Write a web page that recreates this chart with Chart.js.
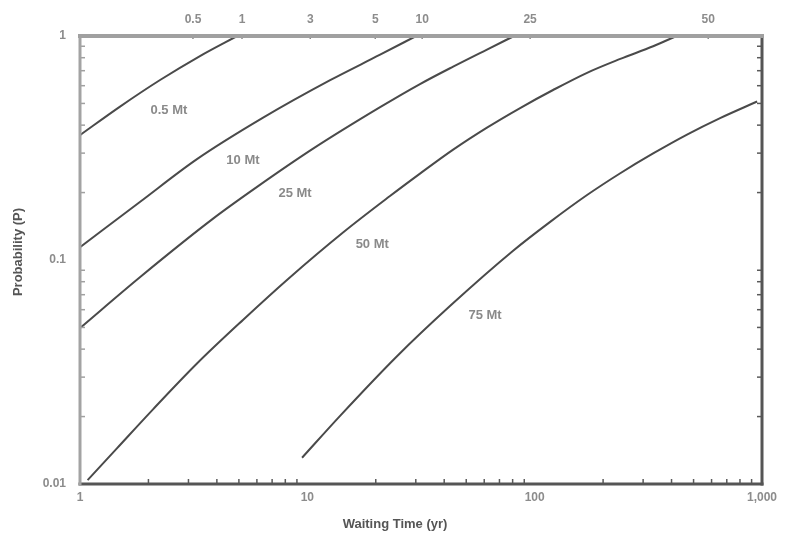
<!DOCTYPE html>
<html>
<head>
<meta charset="utf-8">
<script src="https://cdn.jsdelivr.net/npm/chart.js@4/dist/chart.umd.min.js"></script>
<style>html,body{margin:0;padding:0;background:#fff;}#wrap{width:787px;height:542px;}</style>
</head>
<body>
<div id="wrap"><canvas id="c" width="787" height="542"></canvas></div>
<script>
// ---- data ----
const seriesNames = ['0.5 Mt', '10 Mt', '25 Mt', '50 Mt', '75 Mt'];

const time05 = [1, 1.5, 2.25, 3.37, 4.91];
const prob05 = [0.361, 0.484, 0.636, 0.814, 1.0];

const time10 = [1, 1.84, 3.27, 6.39, 12.6, 20.9, 30.1];
const prob10 = [0.114, 0.182, 0.282, 0.432, 0.635, 0.825, 1.0];

const time25 = [1, 1.84, 3.85, 6.01, 10.6, 20.9, 31.3, 43.8, 61.7, 81.2];
const prob25 = [0.0497, 0.084, 0.153, 0.212, 0.314, 0.481, 0.610, 0.730, 0.870, 1.0];

const time50 = [1.08, 1.46, 2.10, 3.27, 5.21, 8.23, 14.4, 23.1, 31.3, 43.8, 61.7, 86.3, 120.5, 170, 238, 332, 420];
const prob50 = [0.0104, 0.0145, 0.0216, 0.0345, 0.054, 0.0823, 0.133, 0.193, 0.243, 0.311, 0.390, 0.477, 0.574, 0.685, 0.790, 0.900, 1.0];

const time75 = [9.48, 13.9, 24.8, 42.4, 80.4, 117, 170, 238, 332, 468, 654, 952];
const prob75 = [0.0131, 0.0201, 0.0372, 0.0623, 0.110, 0.148, 0.195, 0.244, 0.299, 0.363, 0.430, 0.510];

const xTickValues = [1, 10, 100, 1000];
const xTickLabels = ['1', '10', '100', '1,000'];
const yTickValues = [0.01, 0.1, 1];
const yTickLabels = ['0.01', '0.1', '1'];
const topTickValues = [3.14, 5.16, 10.3, 19.9, 32, 95.5, 580];
const topTickLabels = ['0.5', '1', '3', '5', '10', '25', '50'];

const xTitle = 'Waiting Time (yr)';
const yTitle = 'Probability (P)';

// ---- build ----
const FONT = "'Liberation Sans Narrow','Liberation Sans',Arial,sans-serif";
const times = [time05, time10, time25, time50, time75];
const probs = [prob05, prob10, prob25, prob50, prob75];

const datasets = seriesNames.map((name, k) => ({
  label: name,
  data: times[k].map((t, i) => ({x: t, y: probs[k][i]})),
  borderColor: '#4a4a4a',
  borderWidth: 2,
  pointRadius: 0,
  fill: false,
  cubicInterpolationMode: 'monotone'
}));

const framePlugin = {
  id: 'frame',
  afterDraw(chart, args, opts) {
    const {ctx, chartArea: a, scales} = chart;
    const xs = scales.x, ys = scales.y;
    const seg = (x1, y1, x2, y2, c, w) => {
      ctx.beginPath(); ctx.strokeStyle = c; ctx.lineWidth = w;
      ctx.moveTo(x1, y1); ctx.lineTo(x2, y2); ctx.stroke();
    };
    ctx.save();
    // minor ticks bottom
    [1, 10, 100].forEach(b => {
      for (let m = 2; m <= 9; m++) {
        const px = xs.getPixelForValue(m * b);
        seg(px, a.bottom, px, a.bottom - 5, '#5a5a5a', 1.5);
      }
    });
    [0.01, 0.1].forEach(b => {
      for (let m = 2; m <= 9; m++) {
        const py = ys.getPixelForValue(m * b);
        seg(a.left, py, a.left + 5, py, '#a0a0a0', 1.5);
        seg(a.right, py, a.right - 5, py, '#5a5a5a', 1.5);
      }
    });
    // top ticks
    topTickValues.forEach(v => {
      const px = xs.getPixelForValue(v);
      seg(px, a.top - 2, px, a.top + 3, '#8a8a8a', 1.5);
    });
    // frame
    ctx.lineCap = 'square';
    seg(a.left, a.bottom, a.right, a.bottom, '#555', 3);
    seg(a.right, a.top, a.right, a.bottom, '#555', 3);
    seg(a.left, a.top, a.left, a.bottom, '#a3a3a3', 3);
    seg(a.left, a.top, a.right, a.top, '#a0a0a0', 4);

    // curve labels
    ctx.font = 'bold 13px ' + FONT;
    ctx.fillStyle = '#8a8a8a';
    ctx.textAlign = 'center';
    ctx.textBaseline = 'middle';
    opts.labels.forEach((lab, i) => {
      ctx.fillText(seriesNames[i], xs.getPixelForValue(lab.t), ys.getPixelForValue(lab.p));
    });

    // axis titles
    ctx.fillStyle = '#555';
    ctx.font = 'bold 13px ' + FONT;
    ctx.fillText(xTitle, (a.left + a.right) / 2 - 26, 524);
    ctx.save();
    ctx.translate(18, (a.top + a.bottom) / 2 - 8);
    ctx.rotate(-Math.PI / 2);
    ctx.fillText(yTitle, 0, 0);
    ctx.restore();
    ctx.restore();
  }
};

const tickFont = {family: FONT, size: 12, weight: 'bold'};

new Chart(document.getElementById('c'), {
  type: 'line',
  data: {datasets},
  options: {
    responsive: false,
    animation: false,
    layout: {padding: {left: 0, right: 25, top: 0, bottom: 0}},
    plugins: {
      legend: {display: false},
      tooltip: {enabled: false},
      frame: {
        labels: [
          {t: 2.46, p: 0.467},
          {t: 5.21, p: 0.279},
          {t: 8.83, p: 0.199},
          {t: 19.3, p: 0.117},
          {t: 60.5, p: 0.0568}
        ]
      }
    },
    scales: {
      x: {
        type: 'logarithmic', position: 'bottom', min: 1, max: 1000,
        afterBuildTicks: s => { s.ticks = xTickValues.map(v => ({value: v})); },
        afterFit: s => { s.height = 58; },
        ticks: {callback: (v, i) => xTickLabels[i], color: '#8c8c8c', font: tickFont, padding: 6, maxRotation: 0, autoSkip: false},
        grid: {display: false, drawTicks: false},
        border: {display: false}
      },
      x2: {
        type: 'logarithmic', position: 'top', min: 1, max: 1000,
        afterBuildTicks: s => { s.ticks = topTickValues.map(v => ({value: v})); },
        afterFit: s => { s.height = 36; },
        ticks: {callback: (v, i) => topTickLabels[i], color: '#8c8c8c', font: tickFont, padding: 9, maxRotation: 0, autoSkip: false},
        grid: {display: false, drawTicks: false},
        border: {display: false}
      },
      y: {
        type: 'logarithmic', position: 'left', min: 0.01, max: 1,
        afterBuildTicks: s => { s.ticks = yTickValues.map(v => ({value: v})); },
        afterFit: s => { s.width = 80; },
        ticks: {callback: (v, i) => yTickLabels[i], color: '#8c8c8c', font: tickFont, padding: 14, autoSkip: false},
        grid: {display: false, drawTicks: false},
        border: {display: false}
      }
    }
  },
  plugins: [framePlugin]
});
</script>
</body>
</html>
